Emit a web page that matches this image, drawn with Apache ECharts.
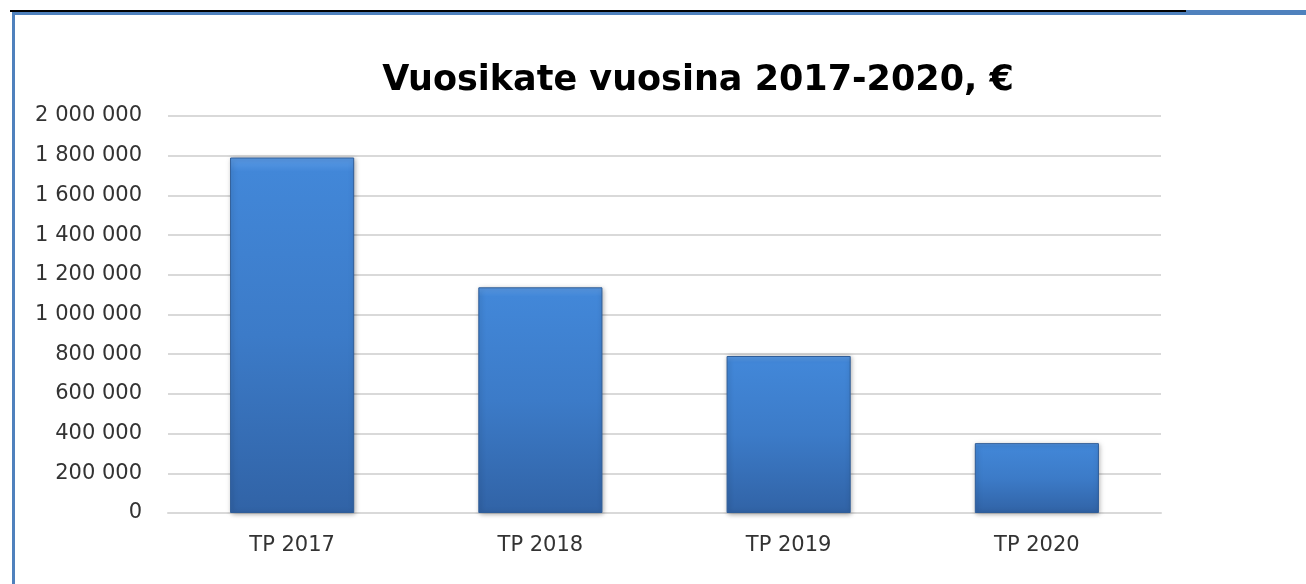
<!DOCTYPE html>
<html>
<head>
<meta charset="utf-8">
<script src="https://cdn.jsdelivr.net/npm/echarts@6/dist/echarts.min.js"></script>
<style>
  html, body { margin: 0; padding: 0; background: #fff; }
  #chart { width: 1306px; height: 584px; }
</style>
</head>
<body>
<div id="chart"></div>
<script>
const categories = ["TP 2017", "TP 2018", "TP 2019", "TP 2020"];
const vuosikate = [1791000, 1137000, 791000, 352000];
const yTicks = [0, 200000, 400000, 600000, 800000, 1000000, 1200000, 1400000, 1600000, 1800000, 2000000];

const chart = echarts.init(document.getElementById("chart"));

// tuhaterotin välilyönnillä
const fmt = v => String(v).replace(/\B(?=(\d{3})+(?!\d))/g, " ");

const option = {
  animation: false,
  title: {
    text: "Vuosikate vuosina 2017-2020, €",
    left: 693,
    top: 58,
    textAlign: "center",
    textStyle: {
      fontFamily: "DejaVu Sans",
      fontWeight: "bold",
      fontSize: 35,
      color: "#000"
    }
  },
  graphic: [
    { type: "rect", shape: { x: 12, y: 10, width: 1294, height: 5 }, style: { fill: "#4f81bd" } },
    { type: "rect", shape: { x: 10, y: 10, width: 1176, height: 2 }, style: { fill: "#000" } },
    { type: "rect", shape: { x: 12, y: 12, width: 3, height: 572 }, style: { fill: "#4f81bd" } }
  ],
  grid: { left: 168, right: 145, top: 116, bottom: 71 },
  xAxis: {
    type: "category",
    data: categories,
    axisTick: { show: false },
    axisLine: { lineStyle: { color: "#d9d9d9", width: 2 } },
    axisLabel: {
      margin: 22,
      fontFamily: "DejaVu Sans",
      fontSize: 21,
      color: "#333"
    }
  },
  yAxis: {
    type: "value",
    min: yTicks[0],
    max: yTicks[yTicks.length - 1],
    interval: yTicks[1] - yTicks[0],
    axisLine: { show: false },
    axisTick: { show: false },
    splitLine: { lineStyle: { color: "#d9d9d9", width: 2 } },
    axisLabel: {
      margin: 26,
      fontFamily: "DejaVu Sans",
      fontSize: 21,
      color: "#333",
      formatter: fmt
    }
  },
  series: [
    {
      type: "bar",
      data: vuosikate,
      barWidth: "50%",
      itemStyle: {
        color: new echarts.graphic.LinearGradient(0, 0, 0, 1, [
          { offset: 0, color: "#5b9be6" },
          { offset: 0.04, color: "#4287d8" },
          { offset: 0.5, color: "#3c7bc8" },
          { offset: 1, color: "#3163a6" }
        ]),
        borderColor: "#2f5d98",
        borderWidth: 1,
        shadowColor: "rgba(0,0,0,0.35)",
        shadowBlur: 5,
        shadowOffsetX: 1,
        shadowOffsetY: 1
      }
    }
  ]
};

chart.setOption(option);
</script>
</body>
</html>
